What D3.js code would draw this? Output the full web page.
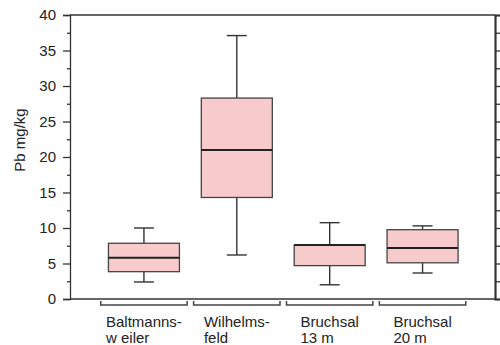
<!DOCTYPE html>
<meta charset="utf-8">
<style>
  body { margin: 0; background: #fff; }
  text { font-family: Arial, "Liberation Sans", sans-serif; fill: #222; }
  .axis path, .axis line { stroke: #333; }
</style>
<body>
<script src="https://d3js.org/d3.v7.min.js"></script>
<script>
// site names, two label lines each
const sites = ["Baltmannsweiler", "Wilhelmsfeld", "Bruchsal 13 m", "Bruchsal 20 m"];
const line1 = ["Baltmanns-", "Wilhelms-", "Bruchsal", "Bruchsal"];
const line2 = ["w eiler", "feld", "13 m", "20 m"];

// box statistics, Pb mg/kg
const whiskerLow  = [2.4, 6.2, 2.0, 3.66];
const q1          = [3.85, 14.3, 4.7, 5.1];
const median      = [5.8, 21.0, 7.6, 7.2];
const q3          = [7.85, 28.3, 7.6, 9.76];
const whiskerHigh = [10.0, 37.1, 10.75, 10.3];

const majorTicks = d3.range(0, 41, 5);
const minorTicks = d3.range(2.5, 40, 5);
const rightTicks = d3.range(0, 40.1, 2.5);

const width = 500, height = 345;
const plotLeft = 70, plotRight = 495, plotTop = 15, plotBottom = 299;

const svg = d3.select("body").append("svg")
  .attr("width", width)
  .attr("height", height);

const y = d3.scaleLinear().domain([0, 40]).range([plotBottom, plotTop]);
const x = d3.scaleBand().domain(sites).range([97.5, 469])
  .paddingInner(0.07).paddingOuter(0.035);

// frame
svg.append("line").attr("x1", plotLeft).attr("x2", plotRight).attr("y1", plotTop).attr("y2", plotTop)
  .attr("stroke", "#333").attr("stroke-width", 1.3);
svg.append("line").attr("x1", plotLeft).attr("x2", plotRight).attr("y1", plotBottom).attr("y2", plotBottom)
  .attr("stroke", "#333").attr("stroke-width", 1.3);

// left axis
const gl = svg.append("g").attr("class", "axis")
  .attr("transform", `translate(${plotLeft},0)`)
  .call(d3.axisLeft(y).tickValues(majorTicks).tickSize(7).tickPadding(7).tickFormat(d3.format("d")));
gl.select(".domain").attr("stroke-width", 1.3);
gl.selectAll(".tick line").attr("stroke-width", 1.3);
gl.selectAll(".tick text").style("font-size", "15px");

svg.append("g").attr("class", "axis")
  .attr("transform", `translate(${plotLeft},0)`)
  .call(d3.axisLeft(y).tickValues(minorTicks).tickSize(3).tickFormat(""))
  .call(g => g.select(".domain").remove())
  .selectAll(".tick line").attr("stroke-width", 1.3);

// right axis
const gr = svg.append("g").attr("class", "axis")
  .attr("transform", `translate(${plotRight},0)`)
  .call(d3.axisRight(y).tickValues(rightTicks).tickSize(6).tickFormat(""));
gr.select(".domain").attr("stroke", "#777").attr("stroke-width", 2.2);
gr.selectAll(".tick line").attr("stroke-width", 1.3);

// y label
svg.append("text")
  .attr("transform", "translate(25,140) rotate(-90)")
  .attr("text-anchor", "middle")
  .style("font-size", "15px")
  .text("Pb mg/kg");

// boxes
const boxW = 71, capW = 20;
const stats = sites.map((s, i) => ({
  site: s, lo: whiskerLow[i], q1: q1[i], med: median[i], q3: q3[i], hi: whiskerHigh[i]
}));

const g = svg.append("g").selectAll("g").data(stats).join("g")
  .attr("transform", d => `translate(${x(d.site) + x.bandwidth() / 2},0)`);

g.append("line").attr("y1", d => y(d.hi)).attr("y2", d => y(d.q3))
  .attr("stroke", "#333").attr("stroke-width", 1.4);
g.append("line").attr("y1", d => y(d.q1)).attr("y2", d => y(d.lo))
  .attr("stroke", "#333").attr("stroke-width", 1.4);
g.append("line").attr("x1", -capW / 2).attr("x2", capW / 2)
  .attr("y1", d => y(d.hi)).attr("y2", d => y(d.hi))
  .attr("stroke", "#333").attr("stroke-width", 1.4);
g.append("line").attr("x1", -capW / 2).attr("x2", capW / 2)
  .attr("y1", d => y(d.lo)).attr("y2", d => y(d.lo))
  .attr("stroke", "#333").attr("stroke-width", 1.4);
g.append("rect")
  .attr("x", -boxW / 2).attr("width", boxW)
  .attr("y", d => y(d.q3)).attr("height", d => y(d.q1) - y(d.q3))
  .attr("fill", "#f7cbcb").attr("stroke", "#444").attr("stroke-width", 1.3);
g.append("line").attr("x1", -boxW / 2).attr("x2", boxW / 2)
  .attr("y1", d => y(d.med)).attr("y2", d => y(d.med))
  .attr("stroke", "#222").attr("stroke-width", 2);

// group brackets under the axis
svg.append("g").selectAll("path").data(sites).join("path")
  .attr("d", s => {
    const x0 = x(s), x1 = x(s) + x.bandwidth();
    return `M${x0},301V305H${x1}V301`;
  })
  .attr("fill", "none").attr("stroke", "#444").attr("stroke-width", 1.5);

// category labels: first line centred, second line aligned to its start
sites.forEach((s, i) => {
  const cx = x(s) + x.bandwidth() / 2;
  const t1 = svg.append("text").attr("y", 326.5).style("font-size", "15px").text(line1[i]);
  const w = t1.node().getComputedTextLength();
  t1.attr("x", cx - w / 2);
  svg.append("text").attr("x", cx - w / 2).attr("y", 342.5).style("font-size", "15px").text(line2[i]);
});
</script>
</body>
</html>
